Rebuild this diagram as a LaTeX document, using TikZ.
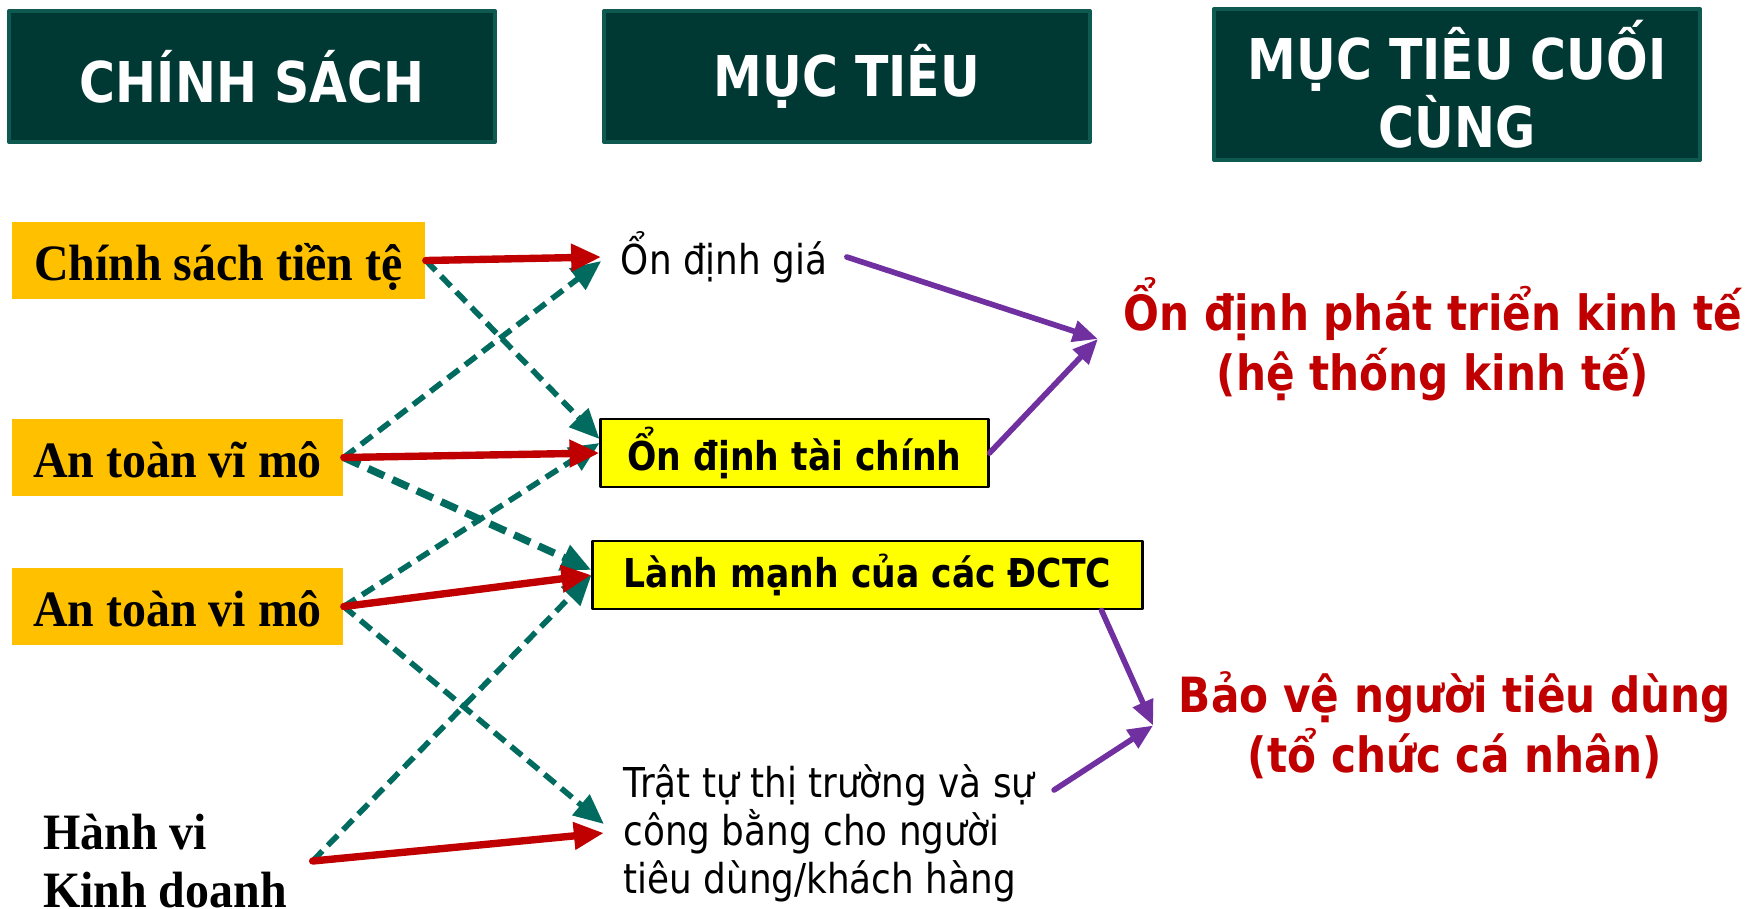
\documentclass[tikz,border=0pt]{standalone}
\usepackage{fontspec}
\setmainfont{DejaVu Sans}[FakeStretch=0.87]
\newfontfamily\romanfont{Liberation Serif}[FakeStretch=0.94]
\usetikzlibrary{arrows.meta}
\definecolor{hdrgreen}{HTML}{003833}
\definecolor{hdredge}{HTML}{0E5A50}
\definecolor{polorange}{HTML}{FFC000}
\definecolor{tgtyellow}{HTML}{FFFF00}
\definecolor{arrred}{HTML}{C00000}
\definecolor{arrteal}{HTML}{006B5E}
\definecolor{arrpurple}{HTML}{7030A0}
\tikzset{
  hdr/.style={draw=hdredge,line width=1pt,fill=hdrgreen,text=white,align=center,
    minimum width=4.86cm,minimum height=1.31cm,font=\fontsize{16}{17.6}\selectfont\bfseries},
  pol/.style={fill=polorange,inner sep=0pt,minimum height=0.77cm,text height=0.43cm,text depth=0.04cm,
    font=\romanfont\fontsize{14.5}{17}\selectfont\bfseries},
  tgtbox/.style={draw=black,line width=0.8pt,fill=tgtyellow,inner sep=0pt,minimum height=0.68cm,
    font=\fontsize{11.3}{13.5}\selectfont\bfseries},
  tgttext/.style={inner xsep=0.19cm,align=left,font=\fontsize{11.7}{13.7}\selectfont},
  goal/.style={inner xsep=0.25cm,align=center,text=arrred,font=\fontsize{13.8}{17.1}\selectfont\bfseries},
  redarr/.style={->,draw=arrred,line width=2.1pt},
  tealarr/.style={->,draw=arrteal,line width=1.6pt,line cap=butt,dash pattern=on 4pt off 2.2pt},
  purarr/.style={-{Triangle[length=0.25cm,width=0.21cm]},draw=arrpurple,line width=1.6pt}
}
\begin{document}
\begin{tikzpicture}[line cap=round,line join=round,>={Triangle[length=0.3cm,width=0.26cm]},x=0.01cm,y=-0.01cm]
\useasboundingbox (0,0) rectangle (1752,908);
\node [hdr] (pol) at (252,76.5) {CHÍNH SÁCH};
\node [hdr] (tgt) at (847,76.5) {MỤC TIÊU};
\node [hdr,minimum height=1.47cm] (fin) at (1457,84.5) {MỤC TIÊU CUỐI\\CÙNG};
\node [pol,minimum width=4.13cm] (cst) at (218.5,260.5) {Chính sách tiền tệ};
\node [pol,minimum width=3.31cm] (avm) at (177.5,457.5) {An toàn vĩ mô};
\node [pol,minimum width=3.31cm] (avi) at (177.5,606.5) {An toàn vi mô};
\node [align=left,inner xsep=0.25cm,font=\romanfont\fontsize{14.5}{16.5}\selectfont\bfseries] (hv) at (165,861) {Hành vi\\Kinh doanh};
\node [tgttext] (gia) at (724,257) {Ổn định giá};
\node [tgtbox,minimum width=3.87cm] (tc) at (794.5,453) {Ổn định tài chính};
\node [tgtbox,minimum width=5.49cm] (lm) at (867.5,575) {Lành mạnh của các ĐCTC};
\node [tgttext] (tt) at (829,833) {Trật tự thị trường và sự\\công bằng cho người\\tiêu dùng/khách hàng};
\node [goal] (g1) at (1433,339) {Ổn định phát triển kinh tế\\(hệ thống kinh tế)};
\node [goal] (g2) at (1455,725.5) {Bảo vệ người tiêu dùng\\(tổ chức cá nhân)};
\draw [tealarr] (cst.east) -- ([yshift=0.14cm]tc.west);
\draw [tealarr] (avm.east) -- ([yshift=-0.04cm]gia.west);
\draw [tealarr,line width=2.1pt,dash pattern=on 5pt off 2.6pt] (avm.east) -- ([yshift=0.05cm]lm.west);
\draw [tealarr] (avi.east) -- ([yshift=0.1cm]tc.west);
\draw [tealarr] (avi.east) -- ([yshift=0.09cm]tt.west);
\draw [tealarr] (hv.east) -- (lm.west);
\draw [redarr] (cst.east) -- (gia.west);
\draw [redarr] (avm.east) -- (tc.west);
\draw [redarr] (avi.east) -- (lm.west);
\draw [redarr] (hv.east) -- (tt.west);
\draw [purarr] (gia.east) -- (g1.west);
\draw [purarr] (tc.east) -- (g1.west);
\draw [purarr] ([xshift=-0.42cm]lm.south east) -- (g2.west);
\draw [purarr] ([yshift=0.43cm]tt.east) -- (g2.west);
\end{tikzpicture}
\end{document}
